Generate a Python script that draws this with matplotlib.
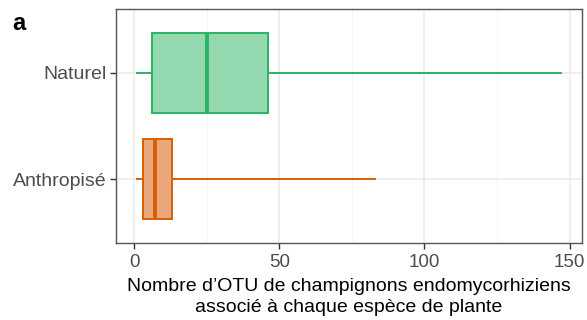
import matplotlib
matplotlib.use("Agg")
import matplotlib.pyplot as plt

plt.rcParams['font.family'] = ['Liberation Sans', 'DejaVu Sans']

# data
groups = ['Anthropisé', 'Naturel']
whislo = [1, 1]
q1 = [3, 6]
med = [7, 25]
q3 = [13, 46]
whishi = [83, 147]
edge_colors = ['#d95f02', '#2bb463']
fill_colors = ['#eaa77c', '#94d8b0']

xticks = [0, 50, 100, 150]
xlabel = "Nombre d\u2019OTU de champignons endomycorhiziens\nassocié à chaque espèce de plante"

fig = plt.figure(figsize=(5.87, 3.2), dpi=100)
ax = fig.add_axes([116 / 587, 77 / 320, 466 / 587, 234 / 320])

stats = []
for i, g in enumerate(groups):
    stats.append(dict(label=g, whislo=whislo[i], q1=q1[i], med=med[i],
                      q3=q3[i], whishi=whishi[i], fliers=[]))

for i, s in enumerate(stats):
    ax.bxp([s], positions=[i + 1], vert=False, widths=0.75, showcaps=False,
           patch_artist=True, manage_ticks=False,
           boxprops=dict(facecolor=fill_colors[i], edgecolor=edge_colors[i], linewidth=1.4),
           medianprops=dict(color=edge_colors[i], linewidth=2.8),
           whiskerprops=dict(color=edge_colors[i], linewidth=1.4),
           zorder=3)

ax.set_xlim(-6.3, 154.3)
ax.set_ylim(0.4, 2.6)
ax.set_yticks([1, 2])
ax.set_yticklabels(groups)
ax.set_xticks(xticks)
ax.set_xticks([25, 75, 125], minor=True)

ax.grid(True, which='major', color='#ebebeb', linewidth=1.1, zorder=0)
ax.grid(True, which='minor', axis='x', color='#f3f3f3', linewidth=0.6, zorder=0)
ax.set_axisbelow(True)
for sp in ax.spines.values():
    sp.set_color('#555555')
    sp.set_linewidth(1.0)
ax.tick_params(axis='both', which='major', colors='#333333', labelcolor='#4d4d4d',
               length=4, width=1.0, pad=3)
ax.tick_params(axis='y', labelsize=14)
ax.tick_params(axis='x', labelsize=13.5, pad=4)
ax.tick_params(axis='x', which='minor', length=0)

ax.set_xlabel(xlabel, fontsize=14, color='black', labelpad=5, linespacing=1.3)
fig.text(12 / 587, 1 - 30 / 320, 'a', fontsize=17, fontweight='bold')

fig.savefig('out.png', dpi=100)
